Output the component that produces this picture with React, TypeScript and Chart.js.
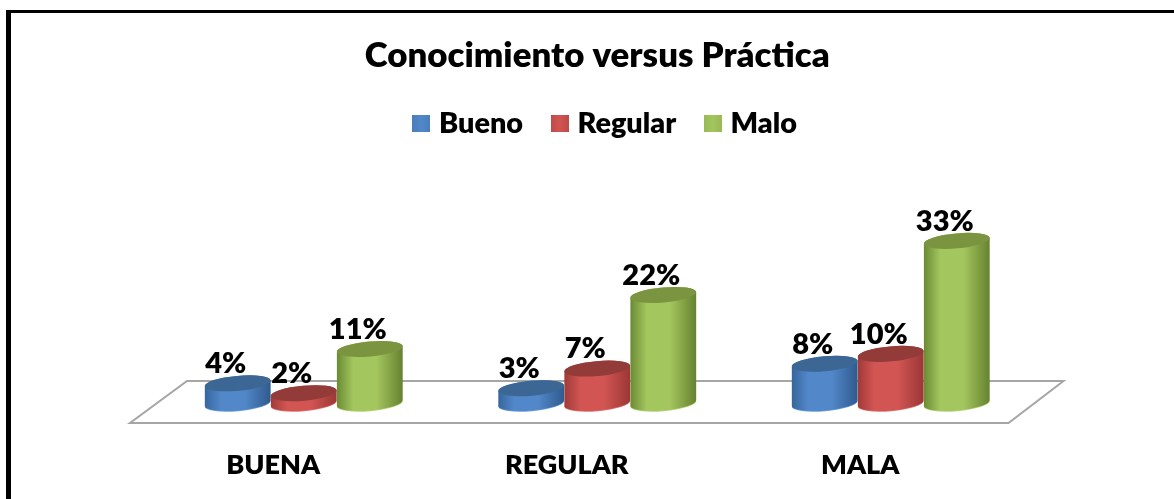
import React, { useEffect, useRef } from "react";
import { Chart, registerables } from "chart.js";

Chart.register(...registerables);

const categories = ["BUENA", "REGULAR", "MALA"];
const seriesNames = ["Bueno", "Regular", "Malo"];
const bueno = [4, 3, 8];
const regular = [2, 7, 10];
const malo = [11, 22, 33];
const seriesValues = [bueno, regular, malo];
const titleText = "Conocimiento versus Práctica";

const palette = [
  { edgeL: "#36659b", mid: "#5288ca", edgeR: "#2f5a8d", top: "#3c6694", rim: "#6d9fd8", flat: "#4a7ebb" },
  { edgeL: "#a03a38", mid: "#d25553", edgeR: "#9b3735", top: "#933b39", rim: "#dd7371", flat: "#be4b48" },
  { edgeL: "#6a8a33", mid: "#a4c65f", edgeR: "#65822f", top: "#7a9440", rim: "#b8d67c", flat: "#98b954" },
];
const FONT = "Lato, Carlito, sans-serif";

const TILT = -5 * (Math.PI / 180);

function legendSwatch(i: number) {
  const c = document.createElement("canvas");
  c.width = 18;
  c.height = 17;
  const g = c.getContext("2d")!;
  const grad = g.createLinearGradient(0, 0, 18, 0);
  grad.addColorStop(0, palette[i].flat);
  grad.addColorStop(0.5, palette[i].mid);
  grad.addColorStop(1, palette[i].flat);
  g.fillStyle = grad;
  g.fillRect(0, 0, 18, 17);
  return c;
}

const cylinderPlugin = {
  id: "cylinders",
  afterLayout(chart: any) {
    // nudge the legend box to where the reference has it
    const l = chart.legend;
    if (l) {
      l.left += 10;
      l.right += 10;
      l.top -= 1;
      l.bottom -= 1;
    }
  },
  beforeDraw(chart: any) {
    const { ctx, width, height } = chart;
    ctx.save();
    ctx.fillStyle = "#fff";
    ctx.fillRect(0, 0, width, height);
    ctx.fillStyle = "#000";
    ctx.fillRect(6, 10, 5, height - 10);
    ctx.fillRect(6, 10, width - 6, 3);
    ctx.restore();
  },
  beforeDatasetsDraw(chart: any) {
    const { ctx, chartArea } = chart;
    const base = chartArea.bottom;
    // floor
    ctx.save();
    ctx.strokeStyle = "#a6a6a6";
    ctx.lineWidth = 2;
    ctx.beginPath();
    ctx.moveTo(chartArea.left - 27, base + 20);
    ctx.lineTo(chartArea.right - 29, base + 20);
    ctx.lineTo(chartArea.right + 26, base - 22);
    ctx.lineTo(chartArea.left + 30, base - 22);
    ctx.closePath();
    ctx.stroke();

    chart.data.datasets.forEach((_: any, d: number) => {
      const meta = chart.getDatasetMeta(d);
      const p = palette[d];
      meta.data.forEach((bar: any) => {
        const { x, y, base: by, width: w } = bar.getProps(["x", "y", "base", "width"], true);
        const rx = w / 2;
        const ry = 7.5;
        const grad = ctx.createLinearGradient(x - rx, 0, x + rx, 0);
        grad.addColorStop(0, p.edgeL);
        grad.addColorStop(0.25, p.mid);
        grad.addColorStop(0.6, p.mid);
        grad.addColorStop(1, p.edgeR);
        // soft lit rim below the body
        ctx.beginPath();
        ctx.ellipse(x, by + 0.8, rx, ry, TILT, 0, Math.PI * 2);
        ctx.fillStyle = p.rim;
        ctx.fill();
        // body
        ctx.beginPath();
        ctx.ellipse(x, by, rx, ry, TILT, 0, Math.PI);
        ctx.ellipse(x, y, rx, ry, TILT, Math.PI, Math.PI * 2);
        ctx.closePath();
        ctx.fillStyle = grad;
        ctx.fill();
        // top cap
        ctx.beginPath();
        ctx.ellipse(x, y, rx, ry, TILT, 0, Math.PI * 2);
        ctx.fillStyle = p.top;
        ctx.fill();
      });
    });

    // value labels
    ctx.fillStyle = "#000";
    ctx.font = `800 29px ${FONT}`;
    ctx.textAlign = "center";
    ctx.textBaseline = "middle";
    chart.data.datasets.forEach((ds: any, d: number) => {
      chart.getDatasetMeta(d).data.forEach((bar: any, i: number) => {
        ctx.fillText(`${ds.data[i]}%`, bar.x - 12, bar.y - 19.5);
      });
    });
    ctx.restore();
    return false;
  },
};

export default function App() {
  const ref = useRef<HTMLCanvasElement>(null);
  useEffect(() => {
    document.body.style.margin = "0";
    const swatches = palette.map((_, i) => legendSwatch(i));
    const chart = new Chart(ref.current!, {
      type: "bar",
      data: {
        labels: categories,
        datasets: seriesNames.map((name, i) => ({
          label: name,
          data: seriesValues[i],
          backgroundColor: palette[i].mid,
          pointStyle: swatches[i],
          categoryPercentage: 0.675,
          barPercentage: 1,
        })),
      },
      options: {
        animation: false,
        responsive: false,
        layout: { padding: { left: 157, right: 136.5, top: 0, bottom: 0 } },
        plugins: {
          title: {
            display: true,
            text: titleText,
            color: "#000",
            font: { family: FONT, size: 34.8, weight: "800" },
            padding: { top: 35.2, bottom: 0 },
          },
          legend: {
            display: true,
            position: "top",
            labels: {
              color: "#000",
              font: { family: FONT, size: 28.8, weight: "800" },
              usePointStyle: true,
              pointStyleWidth: 7,
              padding: 33,
            },
          },
          tooltip: { enabled: false },
        },
        scales: {
          x: {
            grid: { display: false },
            border: { display: false },
            ticks: {
              color: "#000",
              font: { family: FONT, size: 27, weight: "800" },
              labelOffset: -30.5,
              padding: 38.5,
            },
            afterFit: (s: any) => {
              s.height = 96;
            },
          },
          y: { display: false, min: 0, max: 51.75 },
        },
      },
      plugins: [cylinderPlugin],
    } as any);
    return () => chart.destroy();
  }, []);
  return (
    <div style={{ position: "absolute", left: 0, top: 0, width: 1174, height: 499, overflow: "hidden" }}>
      <canvas ref={ref} width={1174} height={499} style={{ display: "block" }} />
    </div>
  );
}
